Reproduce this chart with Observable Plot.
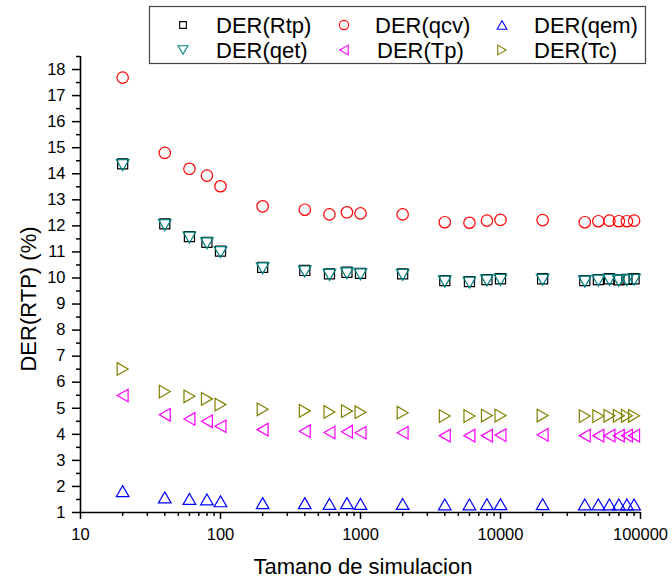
<!DOCTYPE html>
<html>
<head>
<meta charset="utf-8">
<script src="https://cdn.jsdelivr.net/npm/d3@7"></script>
<script src="https://cdn.jsdelivr.net/npm/@observablehq/plot@0.6"></script>
<style>
  html, body { margin: 0; padding: 0; background: #fff; }
  #wrap { position: relative; width: 672px; height: 582px; font-family: "Liberation Sans", Arial, sans-serif; }
  #wrap svg { position: absolute; left: 0; top: 0; }
</style>
</head>
<body>
<div id="wrap"></div>
<script>
// ---- data ----
const sizes = [20, 40, 60, 80, 100, 200, 400, 600, 800, 1000, 2000, 4000, 6000, 8000, 10000, 20000, 40000, 50000, 60000, 70000, 80000, 90000];
const derRtp = [14.38, 12.08, 11.59, 11.37, 11.03, 10.41, 10.29, 10.16, 10.22, 10.18, 10.16, 9.90, 9.86, 9.94, 9.97, 9.97, 9.90, 9.94, 9.97, 9.93, 9.95, 9.97];
const derQcv = [17.69, 14.80, 14.19, 13.93, 13.52, 12.75, 12.62, 12.44, 12.52, 12.48, 12.44, 12.14, 12.12, 12.20, 12.23, 12.22, 12.14, 12.18, 12.20, 12.18, 12.18, 12.20];
const derQem = [1.82, 1.58, 1.52, 1.50, 1.43, 1.36, 1.36, 1.33, 1.36, 1.33, 1.33, 1.31, 1.31, 1.32, 1.32, 1.32, 1.31, 1.31, 1.31, 1.31, 1.31, 1.31];
const derQet = [14.33, 12.03, 11.55, 11.33, 10.99, 10.37, 10.25, 10.12, 10.18, 10.14, 10.12, 9.86, 9.82, 9.90, 9.93, 9.93, 9.86, 9.90, 9.93, 9.89, 9.91, 9.93];
const derTp  = [5.49, 4.75, 4.59, 4.50, 4.31, 4.18, 4.12, 4.07, 4.10, 4.06, 4.06, 3.95, 3.95, 3.95, 3.97, 3.98, 3.95, 3.95, 3.95, 3.95, 3.95, 3.95];
const derTc  = [6.51, 5.64, 5.46, 5.36, 5.14, 4.96, 4.90, 4.86, 4.89, 4.85, 4.83, 4.70, 4.70, 4.72, 4.72, 4.72, 4.70, 4.70, 4.71, 4.71, 4.71, 4.71];

const seriesNames = ["DER(Rtp)", "DER(qcv)", "DER(qem)", "DER(qet)", "DER(Tp)", "DER(Tc)"];
const seriesValues = [derRtp, derQcv, derQem, derQet, derTp, derTc];
const seriesColors = ["#000000", "#ff0000", "#0000ff", "#008080", "#ff00ff", "#808000"];
const seriesSymbols = ["square", "circle", "up", "down", "left", "right"];

const yMajor = d3.range(1, 19);
const yMinor = d3.range(1.5, 18.6, 1);
const xMajor = [10, 100, 1000, 10000, 100000];
const xMinor = [];
for (const p of [10, 100, 1000, 10000]) for (let k = 2; k <= 9; k++) xMinor.push(p * k);

// ---- custom triangle symbols (bbox-centred, like Origin) ----
function tri(dir) {
  return {
    draw(ctx, size) {
      const s = Math.sqrt(size) * 1.25, h = s * Math.sqrt(3) / 2;
      if (dir === "up") { ctx.moveTo(0, -h/2); ctx.lineTo(s/2, h/2); ctx.lineTo(-s/2, h/2); }
      else if (dir === "down") { ctx.moveTo(0, h/2); ctx.lineTo(s/2, -h/2); ctx.lineTo(-s/2, -h/2); }
      else if (dir === "left") { ctx.moveTo(-h/2, 0); ctx.lineTo(h/2, -s/2); ctx.lineTo(h/2, s/2); }
      else { ctx.moveTo(h/2, 0); ctx.lineTo(-h/2, -s/2); ctx.lineTo(-h/2, s/2); }
      ctx.closePath();
    }
  };
}
function sym(name) { return (name === "square" || name === "circle") ? name : tri(name); }

const rows = [];
seriesNames.forEach((name, i) => sizes.forEach((x, j) => rows.push({series: name, x, y: seriesValues[i][j]})));

const dotMarks = seriesNames.map((name, i) =>
  Plot.dot(rows.filter(d => d.series === name), {
    x: "x", y: "y", r: 5.7, symbol: sym(seriesSymbols[i]),
    stroke: seriesColors[i], fill: "none", strokeWidth: 1.2
  })
);

const chart = Plot.plot({
  width: 672, height: 582,
  marginLeft: 80, marginRight: 32, marginTop: 56, marginBottom: 70,
  style: { fontFamily: "Liberation Sans, Arial, sans-serif", fontSize: "16px", background: "white", color: "black" },
  x: { type: "log", domain: [10, 100000] },
  y: { domain: [1, 18.5] },
  marks: [
    Plot.axisY(yMajor, { tickSize: 8, tickPadding: 7, strokeWidth: 1.5, fontSize: 16.5, label: null, tickFormat: d => String(d) }),
    Plot.axisY(yMinor, { tickSize: 4, strokeWidth: 1.5, label: null, tickFormat: () => "" }),
    Plot.axisX(xMajor, { tickSize: 7, tickPadding: 9, strokeWidth: 1.5, fontSize: 16.5, label: null, tickFormat: d3.format("d") }),
    Plot.axisX(xMinor, { tickSize: 4, strokeWidth: 1.5, label: null, tickFormat: () => "" }),
    Plot.ruleX([10], { strokeWidth: 1.6 }),
    Plot.ruleY([1], { strokeWidth: 1.6 }),
    ...dotMarks
  ]
});
document.getElementById("wrap").appendChild(chart);

// ---- overlay: titles + legend ----
const ov = d3.select("#wrap").append("svg")
  .attr("width", 672).attr("height", 582)
  .style("pointer-events", "none")
  .style("font-family", "Liberation Sans, Arial, sans-serif");

ov.append("text").attr("x", 363).attr("y", 574).attr("text-anchor", "middle")
  .attr("font-size", 22).text("Tamano de simulacion");
ov.append("text").attr("transform", "translate(36,299) rotate(-90)").attr("text-anchor", "middle")
  .attr("font-size", 22).text("DER(RTP) (%)");

ov.append("rect").attr("x", 149.5).attr("y", 6.5).attr("width", 496).attr("height", 57)
  .attr("fill", "white").attr("stroke", "#444").attr("stroke-width", 1.2);

const legendPos = [
  {sx: 183, tx: 216, row: 0}, {sx: 344, tx: 375, row: 0}, {sx: 502, tx: 534, row: 0},
  {sx: 183, tx: 216, row: 1}, {sx: 344, tx: 377, row: 1}, {sx: 502, tx: 534, row: 1}
];
seriesNames.forEach((name, i) => {
  const p = legendPos[i];
  const cy = p.row === 0 ? 25 : 50;
  const s = seriesSymbols[i];
  const symType = s === "square" ? d3.symbolSquare : s === "circle" ? d3.symbolCircle : tri(s);
  const area = s === "square" ? 45 : s === "circle" ? 68 : 62;
  ov.append("path").attr("d", d3.symbol(symType, area)())
    .attr("transform", `translate(${p.sx},${cy})`)
    .attr("fill", "none").attr("stroke", seriesColors[i]).attr("stroke-width", 1.1);
  ov.append("text").attr("x", p.tx).attr("y", cy + 7.8).attr("font-size", 22).text(name);
});
</script>
</body>
</html>
